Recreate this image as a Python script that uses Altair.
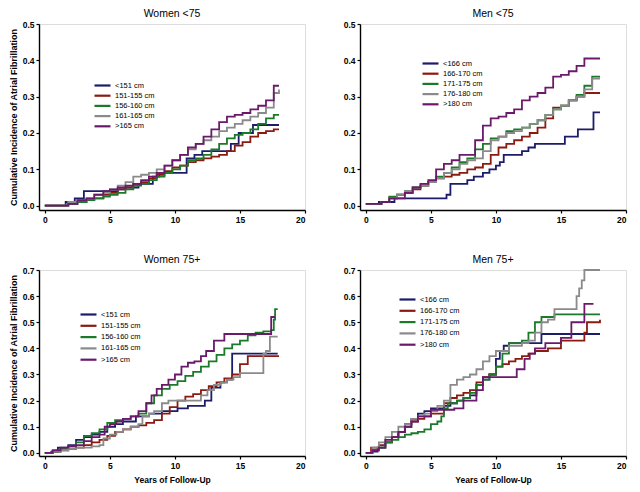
import altair as alt
import pandas as pd

# ---------------- data ----------------
colors = ["#1c1c6b", "#8b1a10", "#1a7a2a", "#8a8a8a", "#6b1a6b"]

women_labels = ["<151 cm", "151-155 cm", "156-160 cm", "161-165 cm", ">165 cm"]
men_labels = ["<166 cm", "166-170 cm", "171-175 cm", "176-180 cm", ">180 cm"]

# Women <75
wy_grid = [0, 1.8, 2.5, 3.2, 3.8, 4.5, 5.0, 5.6, 6.2, 6.8, 7.4, 8.0, 8.6, 9.2, 9.8, 10.4,
           11.0, 11.6, 12.2, 12.8, 13.4, 14.0, 14.6, 15.2, 15.8, 16.4, 17.0, 17.6, 18.0]
wy1_t = [0, 1.6, 2.3, 3.0, 5.6, 6.2, 7.2, 8.3, 8.8, 10.9, 11.5, 12.1, 14.3, 14.9, 16.0, 18.0]
wy1_v = [0, 0.01, 0.02, 0.04, 0.045, 0.05, 0.06, 0.08, 0.09, 0.13, 0.14, 0.15, 0.17, 0.20, 0.222, 0.222]
wy2_v = [0, 0.005, 0.01, 0.015, 0.02, 0.03, 0.035, 0.045, 0.05, 0.06, 0.065, 0.075, 0.085, 0.095, 0.105,
         0.11, 0.12, 0.125, 0.13, 0.135, 0.14, 0.15, 0.165, 0.175, 0.19, 0.2, 0.205, 0.21, 0.21]
wy3_v = [0, 0.005, 0.01, 0.015, 0.02, 0.025, 0.03, 0.035, 0.045, 0.055, 0.06, 0.07, 0.08, 0.09, 0.1,
         0.11, 0.125, 0.13, 0.14, 0.155, 0.17, 0.185, 0.195, 0.2, 0.21, 0.225, 0.24, 0.25, 0.25]
wy4_v = [0, 0.01, 0.015, 0.02, 0.03, 0.035, 0.045, 0.055, 0.065, 0.08, 0.085, 0.09, 0.1, 0.11, 0.125,
         0.14, 0.155, 0.17, 0.18, 0.19, 0.205, 0.215, 0.225, 0.235, 0.245, 0.255, 0.27, 0.31, 0.32]
wy5_v = [0, 0.005, 0.015, 0.02, 0.03, 0.04, 0.045, 0.05, 0.055, 0.06, 0.07, 0.08, 0.09, 0.11, 0.125,
         0.14, 0.16, 0.17, 0.19, 0.21, 0.23, 0.245, 0.25, 0.255, 0.265, 0.275, 0.29, 0.33, 0.33]

# Men <75
my_grid = [0, 0.6, 1.2, 1.8, 2.4, 3.0, 3.6, 4.2, 4.8, 5.4, 6.0, 6.6, 7.2, 7.8, 8.4, 9.0, 9.6, 10.2,
           10.8, 11.4, 12.0, 12.6, 13.2, 13.8, 14.4, 15.0, 15.6, 16.2, 16.8, 17.4, 18.0]
my1_t = [0, 1.0, 1.5, 2.2, 6.2, 6.5, 7.8, 8.3, 9.0, 9.5, 10.0, 10.3, 10.6, 12.0, 12.5, 13.0, 15.3, 16.3, 17.5, 18.0]
my1_v = [0.005, 0.01, 0.01, 0.02, 0.03, 0.06, 0.07, 0.08, 0.09, 0.1, 0.11, 0.12, 0.14, 0.15, 0.16, 0.17,
         0.19, 0.21, 0.257, 0.257]
my2_v = [0.005, 0.005, 0.01, 0.02, 0.03, 0.035, 0.045, 0.055, 0.065, 0.075, 0.08, 0.085, 0.09, 0.1, 0.105,
         0.115, 0.14, 0.16, 0.17, 0.18, 0.19, 0.2, 0.215, 0.24, 0.27, 0.275, 0.29, 0.3, 0.31, 0.31, 0.31]
my3_v = [0.005, 0.005, 0.01, 0.025, 0.03, 0.04, 0.05, 0.055, 0.065, 0.08, 0.09, 0.105, 0.12, 0.13, 0.155,
         0.17, 0.185, 0.19, 0.205, 0.21, 0.215, 0.225, 0.235, 0.25, 0.265, 0.275, 0.29, 0.305, 0.33, 0.355, 0.355]
my4_v = [0.005, 0.005, 0.01, 0.02, 0.03, 0.04, 0.05, 0.055, 0.065, 0.075, 0.09, 0.1, 0.115, 0.125, 0.13,
         0.15, 0.18, 0.19, 0.2, 0.205, 0.215, 0.225, 0.235, 0.25, 0.265, 0.275, 0.29, 0.3, 0.32, 0.35, 0.35]
my5_v = [0.005, 0.005, 0.01, 0.02, 0.02, 0.035, 0.05, 0.06, 0.07, 0.1, 0.115, 0.125, 0.14, 0.14, 0.18,
         0.22, 0.24, 0.245, 0.255, 0.265, 0.29, 0.3, 0.31, 0.325, 0.355, 0.36, 0.37, 0.385, 0.405, 0.405, 0.405]

# Women 75+
wo_grid = [0, 0.6, 1.2, 1.8, 2.4, 3.0, 3.6, 4.2, 4.8, 5.4, 6.0, 6.6, 7.2, 7.8, 8.4, 9.0, 9.6, 10.2,
           10.8, 11.4, 12.0, 12.6, 13.2, 13.8, 14.4, 15.0, 15.6, 16.2, 16.8, 17.4, 18.0]
wo1_t = [0, 0.5, 1.0, 1.8, 2.4, 3.0, 3.6, 4.2, 4.8, 5.4, 6.0, 7.0, 8.0, 9.0, 9.6, 10.2, 11.0, 12.0,
         12.3, 12.8, 13.5, 14.0, 14.4, 17.9]
wo1_v = [0, 0.005, 0.02, 0.03, 0.05, 0.06, 0.07, 0.08, 0.1, 0.11, 0.12, 0.14, 0.15, 0.16, 0.16, 0.17,
         0.18, 0.18, 0.2, 0.25, 0.27, 0.28, 0.38, 0.38]
wo2_v = [0, 0.005, 0.01, 0.015, 0.02, 0.03, 0.04, 0.05, 0.065, 0.08, 0.09, 0.1, 0.105, 0.115, 0.125,
         0.15, 0.175, 0.2, 0.215, 0.225, 0.24, 0.255, 0.27, 0.285, 0.3, 0.34, 0.37, 0.37, 0.37, 0.37, 0.37]
wo3_t = [0, 0.6, 1.2, 1.8, 2.4, 3.0, 3.6, 4.2, 4.8, 5.4, 6.0, 6.6, 7.2, 7.8, 8.4, 9.0, 9.6, 10.2,
         10.8, 11.4, 12.0, 12.6, 13.2, 13.8, 14.4, 15.0, 15.6, 16.2, 16.8, 17.4, 17.6, 17.7, 17.9]
wo3_v = [0, 0.005, 0.015, 0.025, 0.04, 0.065, 0.075, 0.09, 0.115, 0.125, 0.13, 0.14, 0.15, 0.19, 0.22,
         0.245, 0.26, 0.275, 0.295, 0.31, 0.33, 0.35, 0.375, 0.4, 0.415, 0.43, 0.45, 0.46, 0.465, 0.47,
         0.51, 0.55, 0.55]
wo4_t = [0, 0.6, 1.2, 1.8, 2.4, 3.0, 3.6, 4.2, 4.5, 5.0, 5.5, 6.0, 6.6, 7.2, 7.5, 8.0, 8.4, 9.0, 9.5,
         12.0, 12.5, 13.0, 13.5, 14.0, 14.5, 15.0, 16.8, 17.0, 17.3, 17.9]
wo4_v = [0, 0.005, 0.01, 0.015, 0.02, 0.02, 0.025, 0.03, 0.055, 0.07, 0.08, 0.09, 0.1, 0.11, 0.14, 0.15,
         0.16, 0.19, 0.2, 0.22, 0.24, 0.26, 0.27, 0.28, 0.29, 0.305, 0.38, 0.39, 0.445, 0.445]
wo5_t = [0, 0.6, 1.2, 1.8, 2.4, 3.0, 3.6, 4.2, 4.6, 5.0, 5.5, 6.0, 6.6, 7.2, 7.8, 8.2, 8.6, 9.0, 9.5,
         10.0, 10.5, 11.0, 11.5, 12.0, 12.4, 13.0, 13.8, 17.2, 17.4, 17.7]
wo5_v = [0, 0.01, 0.02, 0.025, 0.03, 0.045, 0.06, 0.07, 0.1, 0.11, 0.12, 0.13, 0.14, 0.16, 0.19, 0.22,
         0.245, 0.26, 0.28, 0.3, 0.33, 0.345, 0.35, 0.37, 0.39, 0.43, 0.455, 0.455, 0.52, 0.52]

# Men 75+
mo1_t = [0, 0.5, 0.9, 1.5, 2.0, 2.5, 3.0, 3.5, 4.0, 4.5, 5.0, 5.5, 6.0, 6.5, 7.0, 7.5, 8.0, 8.5, 9.0,
         9.5, 10.0, 10.3, 10.6, 11.0, 12.0, 13.0, 13.5, 18.0]
mo1_v = [0, 0.005, 0.02, 0.04, 0.06, 0.08, 0.11, 0.13, 0.15, 0.16, 0.17, 0.17, 0.18, 0.19, 0.2, 0.21,
         0.22, 0.26, 0.28, 0.3, 0.36, 0.39, 0.41, 0.42, 0.42, 0.42, 0.455, 0.455]
mo2_t = [0, 0.4, 1.0, 1.5, 2.0, 2.5, 3.0, 3.5, 4.0, 4.5, 5.0, 5.5, 6.0, 6.5, 7.0, 7.5, 8.0, 8.5, 9.0,
         9.5, 10.0, 10.5, 11.0, 11.5, 12.0, 12.5, 13.0, 14.0, 15.0, 16.8, 17.0, 18.0]
mo2_v = [0, 0.02, 0.03, 0.04, 0.06, 0.08, 0.1, 0.12, 0.13, 0.14, 0.15, 0.15, 0.19, 0.21, 0.22, 0.23,
         0.24, 0.27, 0.29, 0.3, 0.33, 0.34, 0.35, 0.36, 0.37, 0.38, 0.39, 0.4, 0.43, 0.46, 0.5, 0.51]
mo3_t = [0, 0.5, 1.0, 1.5, 2.0, 2.5, 3.0, 3.5, 4.0, 4.5, 5.0, 5.5, 5.8, 6.0, 6.3, 7.0, 7.5, 8.0, 8.5,
         9.0, 9.5, 10.0, 10.5, 11.0, 12.0, 12.5, 13.0, 13.5, 14.5, 18.0]
mo3_v = [0, 0.01, 0.02, 0.04, 0.05, 0.06, 0.07, 0.075, 0.08, 0.09, 0.11, 0.12, 0.14, 0.17, 0.19, 0.2,
         0.21, 0.23, 0.26, 0.28, 0.3, 0.33, 0.38, 0.42, 0.43, 0.46, 0.5, 0.52, 0.53, 0.53]
mo4_t = [0, 0.5, 1.0, 1.5, 2.0, 2.5, 3.0, 3.5, 4.0, 4.5, 5.0, 5.5, 6.0, 6.5, 7.0, 7.5, 8.0, 8.5, 9.0,
         9.5, 10.0, 11.0, 12.0, 12.5, 13.0, 13.5, 14.0, 14.5, 16.0, 16.2, 16.4, 16.6, 16.8, 18.0]
mo4_v = [0, 0.02, 0.04, 0.06, 0.08, 0.1, 0.11, 0.13, 0.14, 0.15, 0.16, 0.18, 0.2, 0.26, 0.28, 0.29,
         0.3, 0.32, 0.35, 0.37, 0.39, 0.41, 0.42, 0.43, 0.46, 0.5, 0.51, 0.55, 0.55, 0.6, 0.63, 0.66, 0.7, 0.7]
mo5_t = [0, 0.5, 1.0, 1.5, 2.0, 2.5, 3.0, 3.5, 4.0, 5.0, 6.8, 7.5, 8.5, 9.0, 11.6, 12.2, 12.6, 13.0,
         13.8, 15.0, 15.8, 16.8, 17.5]
mo5_v = [0, 0.01, 0.02, 0.05, 0.06, 0.08, 0.1, 0.12, 0.14, 0.165, 0.17, 0.2, 0.24, 0.29, 0.32, 0.36,
         0.38, 0.4, 0.42, 0.44, 0.5, 0.57, 0.57]

FONT = "Liberation Sans"


def make_df(series):
    rows = []
    for lab, ts, vs in series:
        for t, v in zip(ts, vs):
            rows.append({"t": t, "v": v, "g": lab})
    return pd.DataFrame(rows)


def panel(series, labels, title, ymax, lx, ly, rowpad, ytitle, xtitle, width, height):
    df = make_df(series)
    yvals = [round(i * 0.1, 1) for i in range(int(round(ymax * 10)) + 1)]
    xenc = alt.X("t:Q",
                 scale=alt.Scale(domain=[-0.45, 20], nice=False, zero=False),
                 axis=alt.Axis(values=[0, 5, 10, 15, 20]),
                 title=xtitle)
    yenc = alt.Y("v:Q",
                 scale=alt.Scale(domain=[-0.012, ymax], nice=False, zero=False),
                 axis=alt.Axis(values=yvals, format=".1f"),
                 title=ytitle)
    return alt.Chart(df).mark_line(interpolate="step-after", strokeWidth=1.8).encode(
        x=xenc,
        y=yenc,
        color=alt.Color("g:N",
                        scale=alt.Scale(domain=labels, range=colors),
                        legend=alt.Legend(orient="none", legendX=lx, legendY=ly, title=None,
                                          symbolType="M-2,0L2,0", symbolSize=64,
                                          symbolStrokeWidth=2.2, labelFont=FONT, labelFontSize=7.5,
                                          labelOffset=7, rowPadding=rowpad, labelColor="black")),
        order=alt.Order("g:N"),
    ).properties(
        width=width, height=height,
        title=alt.TitleParams(title, fontSize=10.5, font=FONT, fontWeight="normal",
                              frame="group", offset=1),
    )


W, H = 266, 186
YT = "Cumulative Incidence of Atrial Fibrillation"
XT = "Years of Follow-Up"

p1 = panel([(women_labels[0], wy1_t, wy1_v), (women_labels[1], wy_grid, wy2_v),
            (women_labels[2], wy_grid, wy3_v), (women_labels[3], wy_grid, wy4_v),
            (women_labels[4], wy_grid, wy5_v)],
           women_labels, "Women <75", 0.5, 58, 56, 0.2, YT, None, W, H)
p2 = panel([(men_labels[0], my1_t, my1_v), (men_labels[1], my_grid, my2_v),
            (men_labels[2], my_grid, my3_v), (men_labels[3], my_grid, my4_v),
            (men_labels[4], my_grid, my5_v)],
           men_labels, "Men <75", 0.5, 65, 34, 0.2, None, None, W, H)
p3 = panel([(women_labels[0], wo1_t, wo1_v), (women_labels[1], wo_grid, wo2_v),
            (women_labels[2], wo3_t, wo3_v), (women_labels[3], wo4_t, wo4_v),
            (women_labels[4], wo5_t, wo5_v)],
           women_labels, "Women 75+", 0.7, 44, 39, 1.3, YT, XT, W, H)
p4 = panel([(men_labels[0], mo1_t, mo1_v), (men_labels[1], mo2_t, mo2_v),
            (men_labels[2], mo3_t, mo3_v), (men_labels[3], mo4_t, mo4_v),
            (men_labels[4], mo5_t, mo5_v)],
           men_labels, "Men 75+", 0.7, 42, 24, 1.3, None, XT, W, H)

top = alt.hconcat(p1, p2, spacing=35).resolve_scale(color="independent").resolve_legend(color="independent")
bottom = alt.hconcat(p3, p4, spacing=35).resolve_scale(color="independent").resolve_legend(color="independent")

chart = alt.vconcat(top, bottom, spacing=30).resolve_scale(color="independent").resolve_legend(
    color="independent"
).configure_view(stroke=None).configure(padding=0).configure_axis(
    grid=False, domainColor="black", domainWidth=1.4, tickColor="black", tickSize=3, tickWidth=1.2,
    labelFont=FONT, labelFontWeight="bold", labelFontSize=8.5, labelColor="black", labelPadding=2,
    titleFont=FONT, titleFontWeight="bold", titleFontSize=9, titleColor="black",
).configure_axisY(titlePadding=4).configure_axisX(titlePadding=6, titleFontSize=8.5)

chart.save("out.html", embed_options={"renderer": "svg", "actions": False})
